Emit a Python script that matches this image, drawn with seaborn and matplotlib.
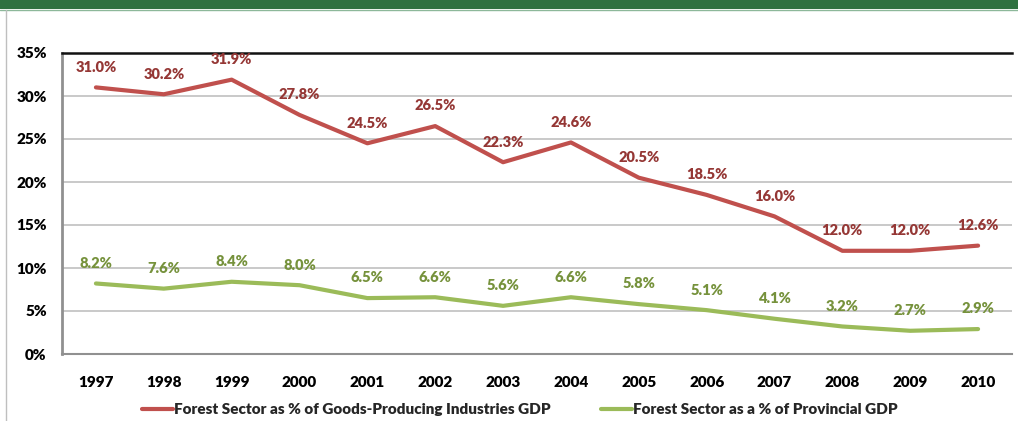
import matplotlib
matplotlib.use("Agg")
import matplotlib.pyplot as plt
import seaborn as sns
import pandas as pd
import numpy as np
from matplotlib.patches import Rectangle
from matplotlib.lines import Line2D

years = ["1997", "1998", "1999", "2000", "2001", "2002", "2003",
         "2004", "2005", "2006", "2007", "2008", "2009", "2010"]
goods_gdp = [31.0, 30.2, 31.9, 27.8, 24.5, 26.5, 22.3, 24.6, 20.5, 18.5, 16.0, 12.0, 12.0, 12.6]
prov_gdp = [8.2, 7.6, 8.4, 8.0, 6.5, 6.6, 5.6, 6.6, 5.8, 5.1, 4.1, 3.2, 2.7, 2.9]
series_names = ["Forest Sector as % of Goods-Producing Industries GDP",
                "Forest Sector as a % of Provincial GDP"]
y_ticks = [0, 5, 10, 15, 20, 25, 30, 35]

line_colors = ["#C0504D", "#9BBB59"]
label_colors = ["#953735", "#76923C"]

sns.set_theme(style="white")
plt.rcParams["font.family"] = ["Lato", "DejaVu Sans"]
WEIGHT = "heavy"

pos = np.arange(len(years))
df = pd.DataFrame({
    "pos": np.concatenate([pos, pos]),
    "value": goods_gdp + prov_gdp,
    "series": [series_names[0]] * len(years) + [series_names[1]] * len(years),
})

fig = plt.figure(figsize=(10.18, 4.21), dpi=100)
ax = fig.add_axes([62 / 1018, 1 - 354 / 421, 950 / 1018, 301 / 421])

# header band and frame
fig.patches.append(Rectangle((0, 1 - 9 / 421), 1, 9 / 421, transform=fig.transFigure,
                             facecolor="#2E7140", edgecolor="none", zorder=0))
fig.lines.append(Line2D([0, 1], [1 - 10 / 421, 1 - 10 / 421], transform=fig.transFigure,
                        color="#8DB89A", lw=1.0))
fig.lines.append(Line2D([5.5 / 1018, 5.5 / 1018], [0, 1 - 10 / 421], transform=fig.transFigure,
                        color="#BFBFBF", lw=1.0))

sns.lineplot(data=df, x="pos", y="value", hue="series", hue_order=series_names,
             palette=line_colors, linewidth=3.0, ax=ax, legend=False)

for vals, col in zip([goods_gdp, prov_gdp], label_colors):
    for x, v in zip(pos, vals):
        ax.annotate(f"{v:.1f}%", (x, v), xytext=(0, 14.5), textcoords="offset points",
                    ha="center", va="center", color=col, fontsize=10.5, fontweight=WEIGHT)

ax.set_xlim(-0.5, len(years) - 0.5)
ax.set_ylim(0, 35)
ax.set_yticks(y_ticks)
ax.set_yticklabels([f"{t}%" for t in y_ticks], fontsize=11, fontweight=WEIGHT, color="black")
ax.set_xticks(pos)
ax.set_xticklabels(years, fontsize=11, fontweight=WEIGHT, color="black")
ax.set_xticks(np.arange(-0.5, len(years), 1.0), minor=True)
ax.tick_params(axis="x", which="major", length=0, pad=16)
ax.tick_params(axis="x", which="minor", length=5, width=1.2, color="#909090", direction="out")
ax.tick_params(axis="y", length=5, width=1.2, color="#909090", direction="out", pad=6)
ax.set_xlabel("")
ax.set_ylabel("")

ax.grid(axis="y", color="#C0C0C0", lw=1.2)
ax.set_axisbelow(True)
ax.spines["right"].set_visible(False)
ax.spines["top"].set_color("#111111")
ax.spines["top"].set_linewidth(1.8)
ax.spines["left"].set_color("#909090")
ax.spines["left"].set_linewidth(2.0)
ax.spines["bottom"].set_color("#909090")
ax.spines["bottom"].set_linewidth(1.5)

handles = [Line2D([], [], color=c, lw=3.0) for c in line_colors]
fig.legend(handles, series_names, loc="center", bbox_to_anchor=(0.511, 1 - 410 / 421),
           ncol=2, frameon=False, handlelength=2.0, handletextpad=0.1,
           columnspacing=3.3, prop={"weight": WEIGHT, "size": 11})

fig.savefig("out.png", dpi=100, facecolor="white")
